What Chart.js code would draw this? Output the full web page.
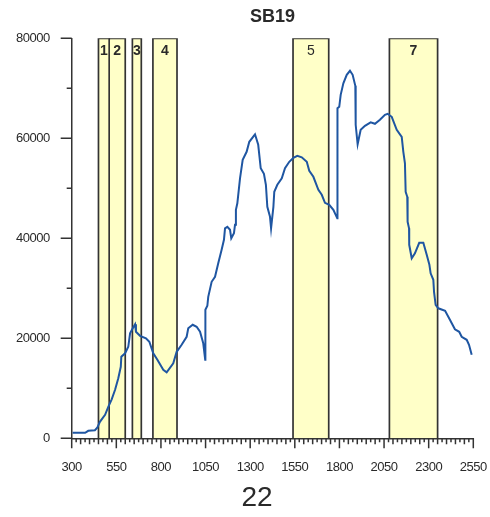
<!DOCTYPE html>
<html>
<head>
<meta charset="utf-8">
<script src="https://cdn.jsdelivr.net/npm/chart.js@4/dist/chart.umd.min.js"></script>
<style>
  html, body { margin: 0; padding: 0; background: #ffffff; }
  #wrap { width: 490px; height: 517px; position: relative; }
</style>
</head>
<body>
<div id="wrap"><canvas id="c" width="490" height="517"></canvas></div>
<script>
// Spectrum: wavelength (x) and measured intensity (y)
const wavelengths = [
  305, 375, 393, 430, 443, 458, 487, 505, 524, 543, 561, 575, 578, 599, 617, 627, 642, 655, 660, 683,
  716, 735, 757, 780, 813, 832, 869, 888, 916, 944, 953, 978, 1000, 1019, 1037, 1048, 1049, 1060, 1065, 1084,
  1103, 1121, 1140, 1153, 1159, 1172, 1187, 1194, 1209, 1215, 1220, 1228, 1243, 1258, 1280, 1295, 1327, 1345, 1359, 1377,
  1388, 1396, 1411, 1417, 1430, 1435, 1452, 1477, 1495, 1519, 1542, 1564, 1589, 1617, 1631, 1654, 1682, 1701, 1719, 1743,
  1766, 1788, 1789, 1799, 1807, 1822, 1841, 1859, 1874, 1889, 1891, 1902, 1919, 1943, 1975, 1999, 2027, 2055, 2070, 2093,
  2121, 2149, 2158, 2167, 2171, 2180, 2182, 2190, 2191, 2205, 2223, 2247, 2270, 2289, 2304, 2311, 2326, 2330, 2339, 2354,
  2392, 2419, 2447, 2471, 2485, 2513, 2526, 2541
];
const intensity = [
  1100, 1100, 1500, 1600, 2100, 3300, 4700, 6300, 7800, 9700, 12000, 14300, 16300, 17000, 18300, 21000, 22000, 22800, 21300, 20500,
  20000, 19300, 17000, 15700, 13700, 13200, 15000, 17300, 18700, 20300, 22000, 22700, 22300, 21300, 19000, 15700, 25700, 26500, 28300, 31300,
  32300, 35000, 37700, 39700, 42000, 42300, 41700, 40000, 41000, 42700, 45700, 47000, 52000, 55700, 57300, 59300, 60800, 58700, 54000, 52900,
  50700, 46300, 44300, 42000, 46300, 49300, 50700, 52000, 54000, 55300, 56100, 56500, 56200, 55300, 53500, 52300, 49700, 48700, 47100, 46700,
  45700, 44000, 66000, 66300, 68700, 71000, 72700, 73500, 72700, 70500, 62700, 58800, 61700, 62500, 63200, 62900, 63700, 64700, 64900, 64300,
  61700, 60300, 57300, 55000, 49300, 48300, 43300, 42000, 38700, 36000, 37000, 39100, 39100, 36700, 34700, 33000, 31700, 29300, 26700, 26000,
  25500, 23700, 21800, 21300, 20300, 19700, 18700, 16700
];

// Highlighted wavelength bands
const bandStarts = [450, 510, 640, 755, 1540, 2080];
const bandEnds   = [510, 600, 690, 890, 1740, 2350];
const bandLabels = ['1', '2', '3', '4', '5', '7'];

// Axis ranges and tick steps
const xRange = [300, 2550];
const yRange = [0, 80000];
const xMajorStep = 250;
const xMinorStep = 25;
const yMajorStep = 20000;
const yMinorStep = 10000;

const chartTitle = 'SB19';
const panelLabel = '22';

// Styling
const AXIS_COLOR = '#333333';
const TEXT_COLOR = '#2a2a2a';
const BAND_FILL = '#ffffc8';
const LINE_COLOR = '#1f56a2';
const regularWeightLabels = ['5'];

const spectrumDataset = {
  label: 'spectrum',
  data: wavelengths.map((x, i) => ({ x: x, y: intensity[i] })),
  borderColor: LINE_COLOR,
  borderWidth: 2,
  pointRadius: 0,
  fill: false,
  tension: 0,
  order: 0
};

const bandDatasets = bandStarts.map((s, i) => ({
  label: 'band ' + bandLabels[i],
  data: [
    { x: s, y: yRange[0] },
    { x: s, y: yRange[1] },
    { x: bandEnds[i], y: yRange[1] },
    { x: bandEnds[i], y: yRange[0] }
  ],
  borderColor: AXIS_COLOR,
  borderWidth: 1.7,
  backgroundColor: BAND_FILL,
  fill: 'origin',
  pointRadius: 0,
  tension: 0,
  order: 1
}));

// Tick marks drawn along both axes (major and minor lengths differ)
const axisTicks = {
  id: 'axisTicks',
  afterDraw(chart) {
    const ctx = chart.ctx;
    const xs = chart.scales.x, ys = chart.scales.y;
    const area = chart.chartArea;
    ctx.save();
    ctx.strokeStyle = AXIS_COLOR;
    ctx.lineWidth = 1.5;
    ctx.beginPath();
    ys.ticks.forEach(t => {
      const py = ys.getPixelForValue(t.value);
      const len = (t.value % yMajorStep === 0) ? 11 : 5;
      ctx.moveTo(area.left - len, py);
      ctx.lineTo(area.left, py);
    });
    for (let v = xRange[0]; v <= xRange[1] + 0.001; v += xMinorStep) {
      const px = xs.getPixelForValue(v);
      let len = 4;
      if ((v - xRange[0]) % xMajorStep === 0) len = 10;
      else if (v % 50 === 0) len = 6;
      ctx.moveTo(px, area.bottom);
      ctx.lineTo(px, area.bottom + len);
    }
    ctx.stroke();
    ctx.restore();
  }
};

// Title, panel number and band labels
const annotations = {
  id: 'annotations',
  beforeDraw(chart) {
    chart.ctx.letterSpacing = '-0.5px';
  },
  afterDraw(chart) {
    const ctx = chart.ctx;
    const xs = chart.scales.x, ys = chart.scales.y;
    const area = chart.chartArea;
    ctx.save();
    ctx.letterSpacing = '0px';
    ctx.fillStyle = TEXT_COLOR;
    ctx.textAlign = 'center';
    ctx.textBaseline = 'middle';

    ctx.font = 'bold 18px "Liberation Sans", Arial, sans-serif';
    ctx.fillText(chartTitle, (area.left + area.right) / 2, 17);

    bandLabels.forEach((lab, i) => {
      const cx = (xs.getPixelForValue(bandStarts[i]) + xs.getPixelForValue(bandEnds[i])) / 2;
      const weight = regularWeightLabels.includes(lab) ? 'normal' : 'bold';
      ctx.font = weight + ' 14px "Liberation Sans", Arial, sans-serif';
      ctx.fillText(lab, cx, ys.getPixelForValue(yRange[1]) + 13);
    });

    ctx.font = '28px "Liberation Sans", Arial, sans-serif';
    ctx.fillText(panelLabel, 257, 498);
    ctx.restore();
  }
};

new Chart(document.getElementById('c'), {
  type: 'line',
  data: { datasets: [spectrumDataset, ...bandDatasets] },
  options: {
    responsive: false,
    animation: false,
    devicePixelRatio: 1,
    layout: { padding: { left: 0, top: 38.3, right: 16.7, bottom: 38.7 } },
    plugins: {
      legend: { display: false },
      tooltip: { enabled: false },
      title: { display: false }
    },
    scales: {
      x: {
        type: 'linear',
        min: xRange[0],
        max: xRange[1],
        afterFit(s) { s.height = 40; s.paddingLeft = 0; s.paddingRight = 0; },
        grid: { display: false, drawTicks: false },
        border: { display: true, color: AXIS_COLOR, width: 1.5 },
        ticks: {
          stepSize: xMajorStep,
          autoSkip: false,
          maxRotation: 0,
          padding: 21,
          color: TEXT_COLOR,
          font: { family: '"Liberation Sans", Arial, sans-serif', size: 13 },
          callback: v => String(v)
        }
      },
      y: {
        type: 'linear',
        min: yRange[0],
        max: yRange[1],
        afterFit(s) { s.width = 71.7; s.paddingTop = 0; s.paddingBottom = 0; },
        grid: { display: false, drawTicks: false },
        border: { display: true, color: AXIS_COLOR, width: 1.5 },
        ticks: {
          stepSize: yMinorStep,
          padding: 22,
          color: TEXT_COLOR,
          font: { family: '"Liberation Sans", Arial, sans-serif', size: 13 },
          callback: v => (v % yMajorStep === 0 ? String(v) : '')
        }
      }
    }
  },
  plugins: [axisTicks, annotations]
});
</script>
</body>
</html>
